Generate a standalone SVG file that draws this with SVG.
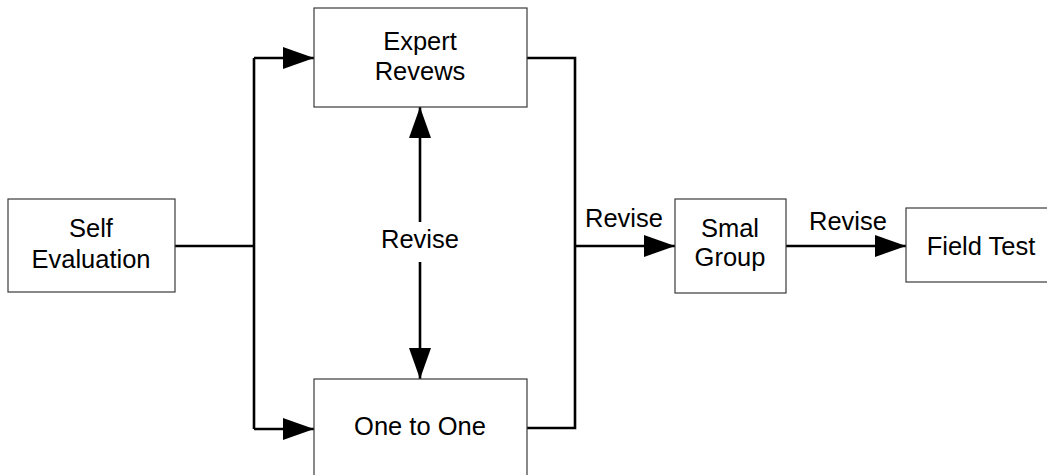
<svg xmlns="http://www.w3.org/2000/svg" width="1047" height="475" viewBox="0 0 1047 475">
<style>
.box{fill:#fff;stroke:#3a3a3a;stroke-width:1.2}
.t{font-family:"Liberation Sans",Arial,sans-serif;font-size:25.5px;fill:#000;text-anchor:middle}
.c{fill:none;stroke:#000;stroke-width:2.6}
</style>
<defs>
<marker id="ah" viewBox="0 0 31 22" refX="31" refY="11" markerWidth="31" markerHeight="22" markerUnits="userSpaceOnUse" orient="auto">
<path d="M0,0 L31,11 L0,22 z" fill="#000"/>
</marker>
</defs>
<rect width="1047" height="475" fill="#fff"/>
<g id="connectors">
<path class="c" d="M175,246 H254"/>
<path class="c" d="M254,58 V429"/>
<path class="c" d="M254,58 H314" marker-end="url(#ah)"/>
<path class="c" d="M254,429 H314" marker-end="url(#ah)"/>
<path class="c" d="M527,58 H575 V428 H527"/>
<path class="c" d="M575,246 H675" marker-end="url(#ah)"/>
<path class="c" d="M786,246 H906" marker-end="url(#ah)"/>
<path class="c" d="M420,222 V107" marker-end="url(#ah)"/>
<path class="c" d="M420,262 V379" marker-end="url(#ah)"/>
<text class="t" x="420" y="248">Revise</text>
<text class="t" x="624" y="227">Revise</text>
<text class="t" x="848" y="230">Revise</text>
</g>
<g id="self-evaluation">
<rect class="box" x="8" y="199" width="167" height="93"/>
<text class="t" x="91" y="237">Self</text>
<text class="t" x="91" y="268">Evaluation</text>
</g>
<g id="expert-reviews">
<rect class="box" x="314" y="8" width="213" height="99"/>
<text class="t" x="420" y="50">Expert</text>
<text class="t" x="420" y="80">Revews</text>
</g>
<g id="one-to-one">
<rect class="box" x="314" y="379" width="213" height="110"/>
<text class="t" x="420" y="435">One to One</text>
</g>
<g id="small-group">
<rect class="box" x="675" y="199" width="111" height="94"/>
<text class="t" x="730" y="237">Smal</text>
<text class="t" x="730" y="266">Group</text>
</g>
<g id="field-test">
<rect class="box" x="906" y="208" width="150" height="74"/>
<text class="t" x="981" y="255">Field Test</text>
</g>
</svg>
